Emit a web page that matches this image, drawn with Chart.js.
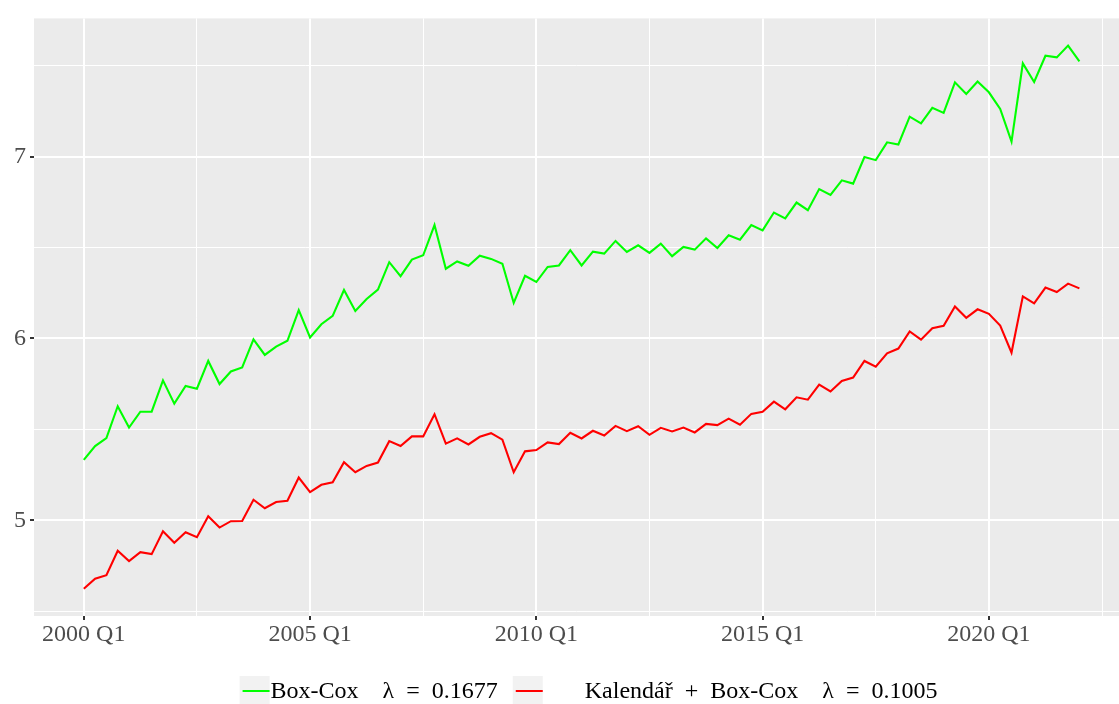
<!DOCTYPE html>
<html>
<head>
<meta charset="utf-8">
<script src="https://cdn.jsdelivr.net/npm/chart.js@4.4.1/dist/chart.umd.min.js"></script>
<style>
  html, body { margin: 0; padding: 0; background: #ffffff; }
  #wrap { width: 1119px; height: 704px; position: relative; }
</style>
</head>
<body>
<div id="wrap"><canvas id="chart"></canvas></div>
<script>
// ---------------------------------------------------------------------------
// Daten (Quartale 2000 Q1 – 2022 Q1)
// ---------------------------------------------------------------------------
const quarters = [];
for (let y = 2000; y <= 2022; y++) {
    for (let q = 1; q <= 4; q++) {
        if (y === 2022 && q > 1) break;
        quarters.push(`${y} Q${q}`);
    }
}

const boxCox = [
    5.332, 5.408, 5.452, 5.627, 5.510, 5.597, 5.597, 5.769, 5.641, 5.738,
    5.723, 5.876, 5.749, 5.818, 5.840, 5.995, 5.909, 5.955, 5.987, 6.155,
    6.005, 6.078, 6.124, 6.266, 6.151, 6.217, 6.268, 6.419, 6.342, 6.433,
    6.457, 6.623, 6.383, 6.423, 6.399, 6.455, 6.437, 6.410, 6.195, 6.344,
    6.310, 6.393, 6.401, 6.485, 6.401, 6.477, 6.466, 6.536, 6.475, 6.512,
    6.470, 6.521, 6.452, 6.503, 6.488, 6.550, 6.497, 6.567, 6.543, 6.623,
    6.594, 6.692, 6.660, 6.747, 6.705, 6.821, 6.789, 6.869, 6.851, 6.997,
    6.980, 7.078, 7.066, 7.219, 7.182, 7.268, 7.240, 7.408, 7.344, 7.412,
    7.353, 7.262, 7.082, 7.512, 7.410, 7.554, 7.545, 7.610, 7.523
];

const kalendarBoxCox = [
    4.623, 4.679, 4.698, 4.832, 4.776, 4.825, 4.814, 4.940, 4.876, 4.934,
    4.907, 5.022, 4.960, 4.995, 4.996, 5.113, 5.066, 5.100, 5.107, 5.235,
    5.155, 5.195, 5.209, 5.319, 5.264, 5.299, 5.317, 5.435, 5.408, 5.461,
    5.461, 5.583, 5.421, 5.450, 5.417, 5.459, 5.479, 5.443, 5.264, 5.379,
    5.386, 5.428, 5.419, 5.481, 5.450, 5.492, 5.466, 5.519, 5.490, 5.517,
    5.470, 5.508, 5.488, 5.510, 5.483, 5.530, 5.523, 5.559, 5.525, 5.585,
    5.596, 5.652, 5.610, 5.676, 5.663, 5.746, 5.708, 5.766, 5.785, 5.876,
    5.845, 5.918, 5.944, 6.038, 5.993, 6.056, 6.069, 6.175, 6.113, 6.160,
    6.135, 6.071, 5.922, 6.231, 6.193, 6.279, 6.255, 6.301, 6.275
];

const seriesLabels = [
    "Box-Cox\u2003λ\u2002=\u20020.1677",
    "Kalendář\u2002+\u2002Box-Cox\u2003λ\u2002=\u20020.1005"
];

const xTickValues = [0, 10, 20, 30, 40, 50, 60, 70, 80, 90];   // Index der Quartale
const yTickValues = [4.5, 5, 5.5, 6, 6.5, 7, 7.5];

// ---------------------------------------------------------------------------
// Hilfen
// ---------------------------------------------------------------------------
const FONT = "'Liberation Serif', 'Times New Roman', serif";

function toPoints(arr) {
    return arr.map((v, i) => ({ x: i, y: v }));
}

const allVals = boxCox.concat(kalendarBoxCox);
const yMinData = Math.min(...allVals);
const yMaxData = Math.max(...allVals);
const yPad = (yMaxData - yMinData) * 0.05;

// Hintergrund des Panels (ggplot grau)
const panelBg = {
    id: "panelBg",
    beforeDraw(chart) {
        const a = chart.chartArea;
        const ctx = chart.ctx;
        ctx.save();
        ctx.fillStyle = "#EBEBEB";
        ctx.fillRect(a.left, a.top, a.right - a.left, a.bottom - a.top);
        ctx.restore();
    }
};

// Legende unten (ggplot Stil)
const bottomLegend = {
    id: "bottomLegend",
    afterDraw(chart) {
        const ctx = chart.ctx;
        const ds = chart.data.datasets;
        const keyW = 30, keyH = 30;
        const textGap = [1, 42];
        const itemGap = 15;
        const cy = 691;
        const centre = 588.5;

        ctx.save();
        ctx.font = `24px ${FONT}`;
        const widths = ds.map(d => ctx.measureText(d.label).width);
        let total = 0;
        ds.forEach((d, i) => {
            total += keyW + textGap[i] + widths[i];
            if (i < ds.length - 1) total += itemGap;
        });
        let x = centre - total / 2;

        ds.forEach((d, i) => {
            ctx.fillStyle = "#F2F2F2";
            ctx.fillRect(x, cy - keyH / 2, keyW, keyH);
            ctx.strokeStyle = d.borderColor;
            ctx.lineWidth = 2;
            ctx.beginPath();
            ctx.moveTo(x + 3, cy);
            ctx.lineTo(x + keyW, cy);
            ctx.stroke();
            x += keyW + textGap[i];
            ctx.fillStyle = "#000000";
            ctx.textBaseline = "middle";
            ctx.textAlign = "left";
            ctx.fillText(d.label, x, cy + 1);
            x += widths[i] + itemGap;
        });
        ctx.restore();
    }
};

// ---------------------------------------------------------------------------
// Chart
// ---------------------------------------------------------------------------
new Chart(document.getElementById("chart"), {
    type: "line",
    data: {
        datasets: [
            {
                label: seriesLabels[0],
                data: toPoints(boxCox),
                borderColor: "#00FF00",
                borderWidth: 2.1,
                pointRadius: 0,
                tension: 0,
                fill: false
            },
            {
                label: seriesLabels[1],
                data: toPoints(kalendarBoxCox),
                borderColor: "#FF0000",
                borderWidth: 2.1,
                pointRadius: 0,
                tension: 0,
                fill: false
            }
        ]
    },
    options: {
        responsive: true,
        maintainAspectRatio: false,
        animation: false,
        layout: { padding: { top: 15, right: 0, bottom: 48, left: 0 } },
        plugins: {
            legend: { display: false },
            tooltip: { enabled: false }
        },
        scales: {
            x: {
                type: "linear",
                min: -4.4,
                max: 91.5,
                afterBuildTicks: s => { s.ticks = xTickValues.map(v => ({ value: v })); },
                afterFit: s => { s.height = 40; },
                border: { display: false },
                grid: {
                    color: "#FFFFFF",
                    lineWidth: c => (c.tick && c.tick.value % 20 === 0) ? 2 : 1,
                    tickColor: c => (c.tick && c.tick.value % 20 === 0) ? "#333333" : "rgba(0,0,0,0)",
                    tickLength: 4,
                    tickWidth: 2
                },
                ticks: {
                    autoSkip: false,
                    maxRotation: 0,
                    padding: 0,
                    color: "#4D4D4D",
                    font: { family: FONT, size: 24 },
                    callback: v => (v % 20 === 0 && quarters[v]) ? quarters[v] : ""
                }
            },
            y: {
                min: yMinData - yPad,
                max: yMaxData + yPad,
                afterBuildTicks: s => { s.ticks = yTickValues.map(v => ({ value: v })); },
                afterFit: s => { s.width = 34; },
                border: { display: false },
                grid: {
                    color: "#FFFFFF",
                    lineWidth: c => (c.tick && Number.isInteger(c.tick.value)) ? 2 : 1,
                    tickColor: c => (c.tick && Number.isInteger(c.tick.value)) ? "#333333" : "rgba(0,0,0,0)",
                    tickLength: 4,
                    tickWidth: 2
                },
                ticks: {
                    padding: 4,
                    color: "#4D4D4D",
                    font: { family: FONT, size: 24 },
                    callback: v => Number.isInteger(v) ? String(v) : ""
                }
            }
        }
    },
    plugins: [panelBg, bottomLegend]
});
</script>
</body>
</html>
